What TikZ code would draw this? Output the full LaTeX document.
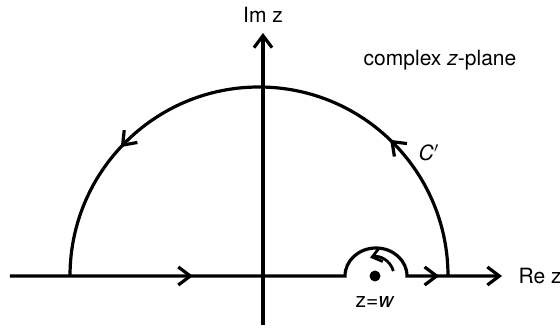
\documentclass[tikz,border=0pt]{standalone}
\usepackage{fontspec}
\setmainfont{TeX Gyre Heros}
\usetikzlibrary{arrows.meta,decorations.markings}
\begin{document}
\begin{tikzpicture}[x = 0.5pt, y = 0.5pt, line width = 1.6pt,
  >={Straight Barb[length=6pt,width=9pt]},
  midarrows/.style 2 args = {postaction = {decorate, decoration = {markings,
      mark = at position #1 with {\arrow{>}},
      mark = at position #2 with {\arrow{>}}}}},
  lbl/.style = {font = \fontsize{10.5}{12}\selectfont, inner sep = 1pt}]
\useasboundingbox (-263,-55) rectangle (297,276);
% axes and contour
\coordinate (reL) at (-253,0);
\coordinate (reR) at (239,0);
\coordinate (imB) at (0,-49);
\coordinate (imT) at (0,243);
\coordinate (bumpL) at (82,0);
\coordinate (arcR) at (185,0);
\draw[->] (imB) -- (imT);
\draw[->, midarrows = {0.35}{0.88}] (reL) -- (bumpL)
  arc[start angle = 180, end angle = 0, x radius = 31, y radius = 28] -- (reR);
\draw[midarrows = {0.256}{0.761}] (arcR) arc[start angle = 0, end angle = 180, radius = 189];
% pole
\node[circle, fill, inner sep = 0pt, minimum size = 5.5pt] (pole) at (112,0) {};
\draw[-{Straight Barb[length=4.5pt,width=7pt]}, line width = 1.4pt]
  ([shift = {(15:19)}]pole.center) arc[start angle = 15, end angle = 105, radius = 19];
% labels
\node[lbl] (imlabel) at (0,261) {Im z};
\node[lbl, anchor = west] (relabel) at (252,0) {Re z};
\node[lbl] (planelabel) at (177,216) {complex \textit{z}-plane};
\node[lbl] (clabel) at (166,123) {\textit{C}$'$};
\node[lbl] (polelabel) at (112,-26) {z=\textit{w}};
\end{tikzpicture}
\end{document}
